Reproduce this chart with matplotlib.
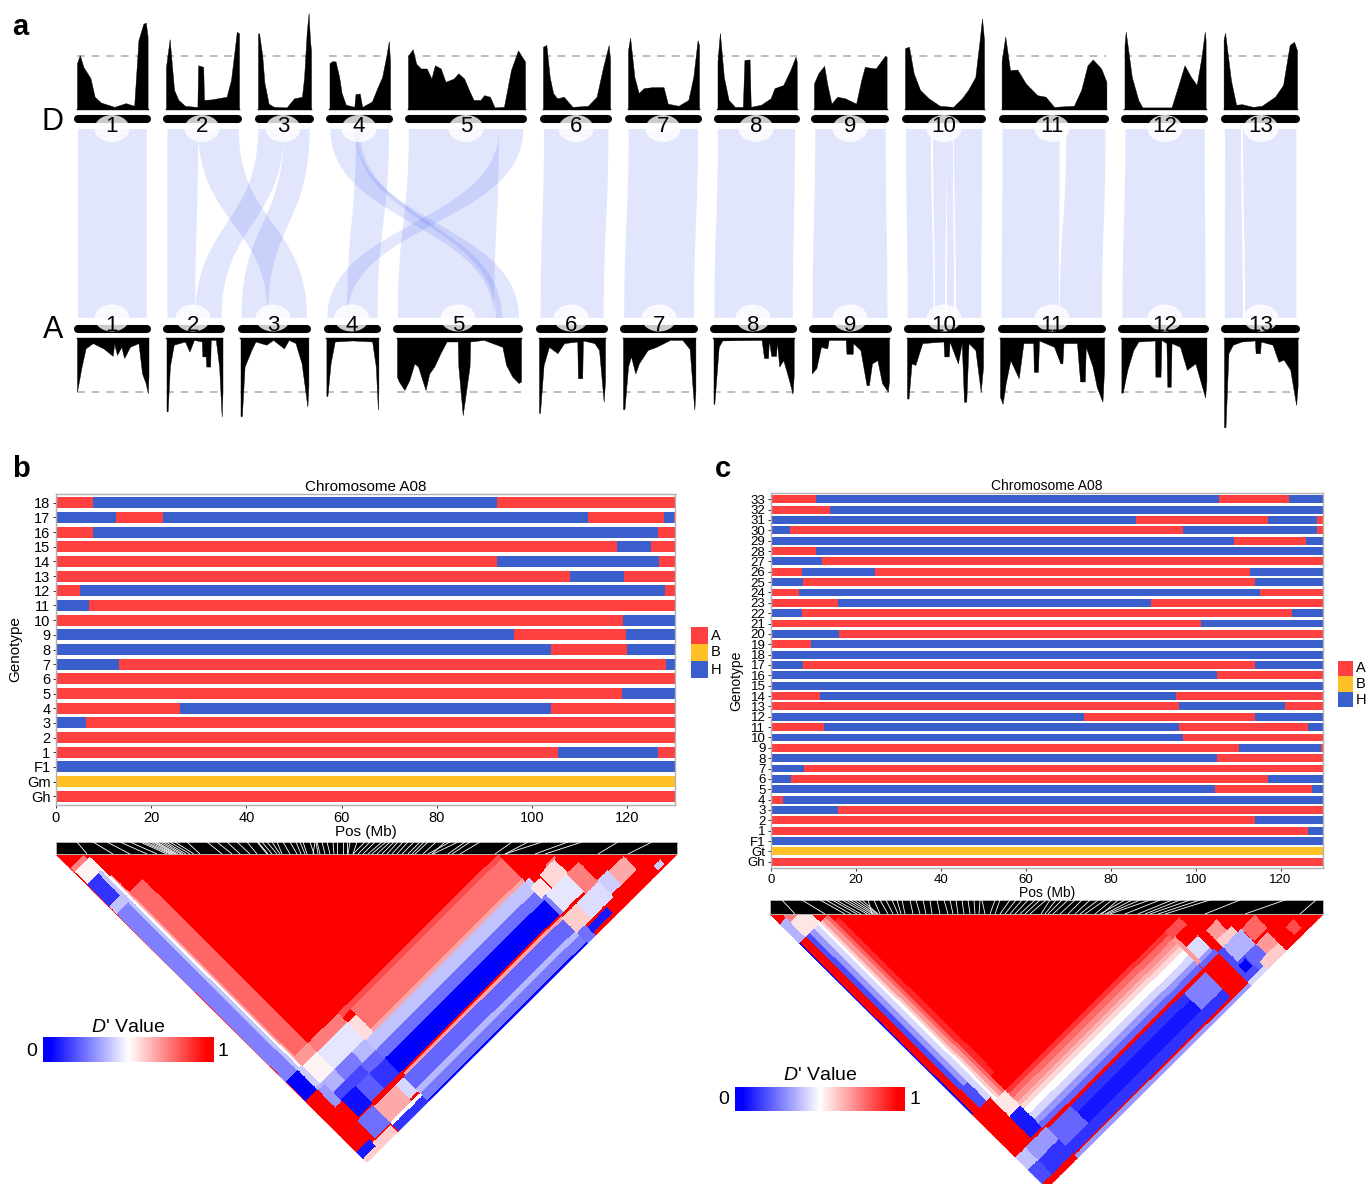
import numpy as np
import matplotlib
matplotlib.use('Agg')
import matplotlib.pyplot as plt
from matplotlib.collections import LineCollection
from matplotlib.colors import LinearSegmentedColormap
from matplotlib.patches import Ellipse, PathPatch, Polygon, Rectangle
from matplotlib.path import Path

plt.rcParams['font.family'] = ['Liberation Sans', 'DejaVu Sans']

W, H = 1370, 1184

# ---- panel a: chromosome spans (reference pixels)
D_BARS = [(74, 151), (163, 242), (255, 314), (326, 393), (405, 527), (540, 612), (625, 702),
          (714, 800), (811, 889), (902, 986), (999, 1109), (1121, 1208), (1221, 1300)]
A_BARS = [(74, 151), (163, 225.5), (238, 311), (324, 381.5), (393, 523), (536, 608), (620, 698),
          (710, 797), (809, 892), (904, 985), (998, 1106), (1118, 1209), (1221, 1300)]
D_SPANS = [(77, 147.6), (166, 239), (258, 311), (329.5, 390), (408, 525), (543, 610), (628, 699),
           (717.5, 796.7), (814, 886.6), (905, 984), (1001.6, 1106.4), (1124.5, 1205.6), (1223.6, 1297)]
A_SPANS = [(77, 148.5), (166.5, 222.5), (240.5, 308.4), (326.4, 378.4), (397, 521), (539, 605), (623, 695.4),
           (713.5, 793.7), (811.7, 889), (907, 983), (1000, 1104), (1121.4, 1206.4), (1224, 1297.6)]
D_LABEL_X = [112, 202, 283, 359, 466, 576, 663, 756, 850, 944, 1052, 1165, 1261]
A_LABEL_X = [112, 193, 273, 351.5, 458, 571, 659, 753, 850, 944, 1052, 1165, 1261]
CHR_NAMES = [str(i) for i in range(1, 14)]

# density profiles: position along chromosome (0-1), height (dashed line = 1)
D_POS = [
    [0, .04, .09, .19, .25, .34, .53, .69, .81, .87, .94, .975, 1],
    [0, .05, .11, .17, .26, .41, .43, .44, .51, .52, .62, .83, .89, .94, .97, 1],
    [0, .02, .08, .12, .2, .3, .54, .68, .83, .87, .92, .955, .98, 1],
    [0, .05, .1, .16, .2, .27, .41, .43, .5, .54, .7, .8, .87, .94, .98, 1],
    [0, .04, .07, .11, .16, .2, .23, .28, .32, .39, .43, .48, .52, .56, .62, .65, .7, .74, .82, .88, .94, 1],
    [0, .05, .1, .15, .21, .31, .44, .67, .8, .9, .98, 1],
    [0, .03, .09, .15, .22, .34, .5, .56, .71, .85, .92, .98, 1],
    [0, .03, .08, .14, .22, .32, .34, .405, .42, .55, .67, .72, .83, .92, .985, 1],
    [0, .06, .14, .18, .24, .32, .43, .58, .65, .7, .85, .98, 1],
    [0, .05, .11, .19, .3, .44, .61, .72, .8, .89, .945, .975, 1],
    [0, .035, .08, .15, .23, .34, .42, .5, .69, .76, .82, .87, .95, 1],
    [0, .015, .09, .17, .22, .58, .66, .74, .82, .89, .95, .99, 1],
    [0, .02, .1, .17, .25, .4, .52, .7, .81, .9, .96, 1],
]
D_VAL = [
    [.86, 1.01, .79, .58, .23, .12, .04, .11, .06, 1.29, 1.6, 1.62, 1.36],
    [.79, 1.31, .36, .17, .06, .04, .04, .82, .79, .17, .18, .23, .54, 1.1, 1.45, 1.42],
    [1.42, 1.42, 1.0, .5, .1, .04, .03, .2, .23, .6, 1.45, 1.8, 1.3, 1.1],
    [.86, .9, .89, .6, .3, .08, .04, .28, .29, .04, .14, .42, .6, 1.0, 1.27, .9],
    [1.0, 1.12, .85, .76, .76, .57, .82, .76, .51, .57, .67, .57, .36, .17, .17, .26, .23, .03, .04, .73, 1.1, .89],
    [1.17, 1.2, .6, .3, .2, .23, .04, .06, .23, .8, 1.2, .95],
    [1.1, 1.34, .6, .3, .39, .41, .41, .1, .06, .17, .6, 1.29, 1.2],
    [.9, 1.43, .6, .17, .04, .04, .92, .93, .04, .08, .2, .39, .45, .73, .98, .9],
    [.48, .67, .81, .48, .1, .23, .2, .1, .54, .79, .76, 1.0, .98],
    [1.14, 1.17, .67, .36, .2, .06, .04, .2, .36, .6, 1.29, 1.7, 1.3],
    [.9, 1.36, .73, .74, .48, .26, .23, .04, .06, .36, .82, .93, .76, .51],
    [1.2, 1.45, .6, .17, .03, .03, .42, .82, .6, .45, .98, 1.45, 1.3],
    [1.3, 1.43, .54, .08, .09, .04, .06, .23, .45, 1.2, 1.26, 1.1],
]
A_POS = [
    [0, .06, .12, .22, .37, .5, .52, .56, .62, .66, .74, .86, .91, .96, .99, 1],
    [0, .02, .06, .13, .33, .41, .49, .63, .64, .70, .71, .78, .79, .88, .94, .985, 1],
    [0, .02, .06, .16, .22, .38, .48, .64, .71, .81, .9, .985, 1],
    [0, .02, .08, .16, .5, .88, .95, .99, 1],
    [0, .015, .06, .1, .14, .17, .23, .26, .3, .35, .4, .49, .495, .53, .585, .59, .7, .85, .88, .93, .98, 1],
    [0, .015, .07, .15, .28, .38, .58, .59, .655, .665, .84, .91, .98, 1],
    [0, .02, .07, .11, .17, .22, .34, .46, .65, .82, .92, .985, 1],
    [0, .01, .065, .11, .6, .63, .68, .69, .72, .78, .79, .82, .87, .93, .985, 1],
    [0, .06, .12, .2, .22, .44, .45, .53, .535, .63, .71, .74, .78, .85, .91, .985, 1],
    [0, .02, .06, .11, .2, .48, .49, .55, .56, .67, .72, .75, .78, .81, .9, .97, 1],
    [0, .025, .055, .1, .18, .225, .32, .325, .365, .375, .52, .58, .6, .61, .74, .77, .815, .825, .89, .93, .985, 1],
    [0, .015, .07, .14, .2, .395, .4, .46, .47, .53, .54, .58, .59, .69, .77, .87, .985, 1],
    [0, .02, .06, .12, .24, .42, .43, .49, .5, .66, .74, .81, .9, .98, 1],
]
A_VAL = [
    [1.0, .56, .19, .09, .19, .33, .1, .31, .16, .37, .16, .09, .66, .84, 1.03, .7],
    [1.37, 1.37, .53, .12, .06, .25, .03, .06, .34, .34, .53, .53, .03, .03, .53, 1.47, 1.0],
    [1.46, 1.46, .53, .22, .06, .12, .03, .19, .03, .09, .47, 1.28, .9],
    [1.08, 1.08, .47, .06, .04, .06, .53, 1.34, 1.0],
    [.72, .81, .97, .78, .47, .53, .97, .66, .53, .28, .06, .06, .53, 1.44, .53, .06, .03, .16, .5, .72, .84, .81],
    [1.4, 1.4, .5, .16, .28, .09, .06, .75, .75, .04, .09, .22, 1.19, .8],
    [1.33, 1.33, .53, .34, .66, .47, .22, .16, .03, .03, .2, 1.34, 1.0],
    [1.23, 1.23, .16, .04, .03, .37, .37, .03, .33, .33, .06, .53, .41, .72, 1.04, .7],
    [.66, .56, .16, .19, .03, .03, .29, .29, .09, .22, .88, .88, .47, .41, .84, 1.0, .8],
    [1.13, 1.13, .47, .5, .09, .06, .34, .34, .06, .47, .09, 1.19, 1.19, .09, .22, 1.0, .55],
    [1.1, 1.23, .84, .41, .75, .09, .09, .63, .63, .04, .16, .47, .47, .09, .09, .81, .81, .16, .53, .91, 1.19, .6],
    [1.02, 1.02, .59, .22, .06, .04, .72, .72, .03, .09, .91, .91, .09, .16, .59, .47, 1.11, .8],
    [1.67, 1.67, .28, .12, .06, .04, .28, .28, .06, .12, .44, .4, .59, 1.25, .9],
]

# synteny ribbons: D start, D end, A start, A end
RIBBONS = [
    (78, 146.7, 78, 146.7), (167.4, 198.2, 167.4, 195.2), (198.2, 238.8, 267.8, 307),
    (284, 309.7, 241.4, 267.8), (258.1, 284, 195.2, 221.6), (356, 389, 347, 377.5),
    (330.4, 356, 494, 519), (355, 360, 496, 502), (408.8, 499, 397.8, 494.2), (499, 523.3, 327.3, 347),
    (544, 608.4, 540.5, 603.7), (628.6, 698, 624.2, 694), (717.9, 795, 714.4, 792.8),
    (815.2, 885.7, 812.6, 887.5), (906, 931, 907.7, 933.5), (933, 947, 935, 945),
    (947, 953, 947, 954), (954, 982.2, 956, 981.3), (1002.5, 1059.7, 1001.6, 1058.8),
    (1066.3, 1105.5, 1059.7, 1102), (1125.4, 1204.7, 1122.4, 1205.6), (1225, 1241, 1224.8, 1243),
    (1243, 1296.3, 1245, 1296.3),
]

# ---- panels b, c: genotype bins along A08 (Mb)
STATE_COLORS = {'A': '#FF4040', 'B': '#FFC125', 'H': '#3A5FCD'}
GENO_B_NAMES = ['Gh', 'Gm', 'F1', '1', '2', '3', '4', '5', '6', '7', '8', '9', '10', '11', '12', '13', '14', '15', '16', '17', '18']
GENO_B_STATES = ['A', 'B', 'H', 'AHA', 'A', 'HA', 'AHA', 'AH', 'A', 'HAH', 'HAH', 'HAH', 'AH', 'HA', 'AHA', 'AHA', 'AHA', 'AHA', 'AHA', 'HAHAHA', 'AHA']
GENO_B_BREAKS = [[], [], [], [105.5, 126.5], [], [6.4], [26, 104], [118.9], [], [13.3, 128.2], [104, 120], [96.2, 119.8],
                 [119], [6.9], [5.1, 127.8], [107.9, 119.2], [92.7, 126.7], [117.8, 125], [7.8, 126.5],
                 [12.5, 22.5, 111.7, 127.7, 129.7], [7.8, 92.7]]
GENO_C_NAMES = ['Gh', 'Gt', 'F1'] + [str(i) for i in range(1, 34)]
GENO_C_STATES = ['A', 'B', 'H', 'AH', 'AH', 'HA', 'AH', 'HAH', 'HAH', 'HA', 'HA', 'AHA', 'HA', 'AHAH', 'HAH', 'AHA', 'AHA', 'H', 'HA',
                 'HAH', 'H', 'AH', 'HA', 'AH', 'HAH', 'AHA', 'AHA', 'HAH', 'AHAH', 'HA', 'AH', 'HAH', 'HAHA', 'HAHA', 'AH', 'AHAH']
GENO_C_BREAKS = [[], [], [], [126.5], [114.1], [15.7], [2.8], [104.6, 127.4], [4.6, 117.1], [7.7], [105.1], [110.3, 129.5],
                 [97.1], [12.5, 96, 126.5], [73.6, 114.1], [96, 121], [11.5, 95.3], [], [105.1], [7.6, 114.1], [], [9.5], [16.1],
                 [101.2], [7.3, 122.8], [15.7, 89.5], [6.5, 115.2], [7.6, 114.1], [7.3, 24.4, 112.7], [11.9], [10.5],
                 [109, 126], [4.5, 97, 128.6], [85.9, 117, 128.6], [14], [10.5, 105.5, 122]]
X_TICKS = [0, 20, 40, 60, 80, 100, 120]

# ---- LD blocks: U from, U to, V from, V to, D'
LD_B_RANGE = (128, 1537)
LD_B_BLOCKS = [
    (128, 1537, 128, 1537, 1.0),
    (132, 190, 190, 210, .75), (132, 200, 210, 265, .52),
    (131, 183, 265, 368, .1), (131, 183, 368, 400, .38), (131, 183, 400, 1168, .25),
    (131, 185, 1168, 1256, .0), (128, 190, 1260, 1490, 1.0), (128, 190, 1490, 1520, .05), (128, 190, 1520, 1537, .6),
    (183, 195, 265, 1165, .38), (195, 203, 265, 1165, .5), (203, 210, 300, 1165, .68),
    (210, 270, 380, 1130, .8),
    (270, 407, 1130, 1172, .76), (270, 407, 1172, 1250, .45), (407, 445, 1175, 1255, .57),
    (205, 270, 1130, 1170, .7), (205, 270, 1170, 1250, .52), (185, 205, 1165, 1250, .4),
    (410, 1133, 1130, 1150, .85), (445, 1133, 1150, 1240, .78), (445, 1133, 1240, 1255, .68),
    (407, 1133, 1255, 1300, .38), (407, 1133, 1300, 1340, .22),
    (410, 1133, 1340, 1408, .0), (420, 1135, 1408, 1415, 1.0), (420, 1135, 1415, 1425, .68),
    (410, 1133, 1425, 1480, .2), (410, 1133, 1480, 1500, .36), (410, 1133, 1500, 1532, .24), (410, 1133, 1532, 1537, .0),
    (185, 270, 1250, 1300, .35), (270, 350, 1250, 1300, .24), (350, 407, 1250, 1300, .36),
    (210, 340, 1300, 1340, .14), (340, 407, 1300, 1340, .2), (185, 215, 1260, 1340, .3),
    (280, 340, 1340, 1408, .18), (340, 410, 1340, 1408, .1), (215, 280, 1335, 1415, .03),
    (275, 372, 1415, 1425, 1.0), (275, 372, 1425, 1498, .67), (372, 410, 1425, 1490, .42),
    (275, 410, 1498, 1510, .5), (275, 410, 1510, 1537, .1),
    (205, 275, 1420, 1500, .22), (190, 270, 1505, 1537, .6),
    (1133, 1150, 1255, 1330, .4), (1150, 1243, 1330, 1410, .45), (1130, 1175, 1280, 1330, .55), (1180, 1250, 1270, 1330, .58),
    (1215, 1258, 1262, 1270, .75), (1133, 1150, 1330, 1410, .25), (1243, 1300, 1330, 1420, .75),
    (1133, 1198, 1420, 1490, .6), (1198, 1300, 1420, 1490, .43), (1300, 1345, 1415, 1480, .4), (1345, 1415, 1420, 1480, .67),
    (1170, 1260, 1498, 1525, .05), (1133, 1170, 1490, 1537, .22), (1170, 1430, 1525, 1537, 1.0),
    (1460, 1490, 1510, 1530, .4),
]
LD_C_RANGE = (165, 1457)
LD_C_BLOCKS = [
    (165, 1457, 165, 1457, 1.0),
    (165, 195, 210, 300, .35), (195, 265, 190, 230, .75), (195, 265, 230, 300, .55),
    (165, 172, 300, 1110, .0), (172, 197, 300, 1110, 1.0),
    (197, 215, 300, 1020, .15), (215, 235, 300, 1020, .3), (235, 255, 300, 1128, .42), (255, 265, 300, 1128, .5),
    (265, 275, 300, 1128, .6), (275, 290, 300, 1128, .7), (290, 302, 300, 1128, .8), (302, 321, 330, 1060, .92),
    (200, 235, 1020, 1110, .15), (165, 250, 1110, 1310, 1.0), (250, 302, 1128, 1200, .55), (250, 302, 1200, 1300, .05),
    (302, 1050, 1128, 1145, .9), (302, 1050, 1145, 1165, .8), (302, 1050, 1165, 1185, .72), (302, 1050, 1185, 1200, .65), (302, 1050, 1200, 1215, .58),
    (302, 1050, 1215, 1240, .5), (302, 1050, 1240, 1265, .42), (302, 1050, 1265, 1285, .3), (302, 1050, 1285, 1305, .2),
    (302, 1125, 1305, 1318, 1.0), (312, 1050, 1318, 1350, .1), (312, 1050, 1350, 1400, .04), (312, 1050, 1400, 1437, .1),
    (312, 1130, 1437, 1445, 1.0), (312, 1130, 1445, 1457, .3),
    (312, 420, 1318, 1400, .2), (950, 1050, 1318, 1400, .25),
    (1052, 1125, 1305, 1435, 1.0), (1052, 1125, 1285, 1305, .2),
    (1050, 1118, 1128, 1165, .85), (1050, 1064, 1165, 1285, .7), (1064, 1118, 1214, 1270, .43), (1064, 1118, 1270, 1285, .3),
    (1125, 1180, 1300, 1440, .15), (1180, 1250, 1370, 1440, .2), (1150, 1235, 1300, 1370, .35), (1142, 1175, 1380, 1415, .0),
    (1149, 1200, 1221, 1270, .7), (1150, 1220, 1270, 1300, .6), (1234, 1290, 1370, 1420, .7), (1200, 1290, 1420, 1457, .6), (1125, 1200, 1440, 1457, .42),
    (1236, 1300, 1300, 1360, .8), (1344, 1380, 1400, 1440, .85),
    (165, 215, 1310, 1370, .38), (165, 215, 1370, 1436, .15), (215, 312, 1310, 1370, .3), (215, 312, 1370, 1436, .1),
    (165, 312, 1436, 1457, 1.0),
]

# white gaps in the SNP strip above each heatmap: x at top, x at bottom
STRIP_B_TOP = [77, 93, 107, 120, 130, 140, 143, 146, 150, 153, 155, 157, 160, 163, 166, 170, 175, 187, 207, 217, 227, 237, 247, 257, 258, 262, 267, 272, 277,
               283, 290, 296, 300, 303, 310, 315, 316, 317, 322, 327, 333, 337, 343, 347, 350, 357, 365, 370, 375, 382, 386, 390, 394, 398, 403, 408, 414, 420,
               424, 428, 436, 445, 450, 458, 465, 470, 480, 512, 528, 542, 568, 582, 618, 652]
STRIP_B_BOTTOM = [87, 113, 130, 147, 157, 167, 170, 172, 173, 175, 176, 178, 181, 183, 186, 190, 194, 200, 222, 232, 240, 250, 257, 267, 268, 272, 277, 280, 282,
                  290, 297, 301, 305, 307, 314, 313, 318, 320, 325, 330, 334, 337, 343, 347, 348, 353, 353, 358, 363, 368, 372, 377, 382, 387, 392, 397, 402, 408,
                  412, 415, 423, 432, 428, 433, 448, 452, 460, 495, 505, 505, 535, 545, 598, 628]
STRIP_C_TOP = [782, 802, 820, 826, 832, 836, 842, 846, 850, 854, 858, 862, 868, 874, 880, 886, 892, 897, 902, 910, 916, 923, 930, 937, 944, 950, 956, 962, 968, 974, 980, 982,
               995, 1000, 1010, 1016, 1022, 1028, 1035, 1040, 1046, 1050, 1056, 1062, 1068, 1075, 1082, 1090, 1098, 1105, 1112, 1118, 1125, 1132, 1140, 1150, 1160, 1172,
               1180, 1190, 1200, 1210, 1240, 1285, 1316]
STRIP_C_BOTTOM = [795, 825, 845, 851, 857, 861, 867, 870, 873, 875, 877, 878, 872, 880, 888, 893, 898, 901, 905, 913, 920, 926, 932, 940, 948, 953, 958, 964, 970, 975, 979, 985,
                  990, 995, 1000, 1005, 1010, 1015, 1020, 1025, 1030, 1041, 1045, 1048, 1053, 1060, 1068, 1075, 1080, 1085, 1095, 1102, 1100, 1105, 1107, 1110, 1125, 1138,
                  1145, 1150, 1158, 1165, 1205, 1245, 1300]

LD_CMAP = LinearSegmentedColormap.from_list('ld', ['#0000FF', '#FFFFFF', '#FF0000'])


def axes_from_pixels(fig, x0, y0, x1, y1):
    return fig.add_axes([x0 / W, 1 - y1 / H, (x1 - x0) / W, (y1 - y0) / H])


def draw_genotypes(ax, names, states, breaks, tick_size, height, title_size):
    for row, (st, br) in enumerate(zip(states, breaks)):
        edges = [0] + list(br) + [130]
        for k, s in enumerate(st):
            ax.barh(row, edges[k + 1] - edges[k], left=edges[k], height=height, color=STATE_COLORS[s], linewidth=0)
    ax.set_xlim(0, 130)
    ax.set_ylim(-0.6, len(names) - 0.4)
    ax.set_yticks(range(len(names)))
    ax.set_yticklabels(names)
    ax.set_xticks(X_TICKS)
    ax.tick_params(labelsize=tick_size, length=2.5, width=0.7, pad=1.5, color='#333333')
    for s in ax.spines.values():
        s.set_color('#b0b0b0')
        s.set_linewidth(1)
    ax.set_title('Chromosome A08', fontsize=title_size, pad=1.5)
    ax.set_xlabel('Pos (Mb)', fontsize=title_size, labelpad=0)
    ax.set_ylabel('Genotype', fontsize=title_size, labelpad=3)


def draw_ld(ov, blocks, rng, left, right, top, k):
    edges = np.unique([b[i] for b in blocks for i in range(4)])
    mid = (edges[:-1] + edges[1:]) / 2
    z = np.full((len(mid), len(mid)), np.nan)
    uu, vv = np.meshgrid(mid, mid)
    for ulo, uhi, vlo, vhi, val in blocks:
        z[(uu >= ulo) & (uu < uhi) & (vv >= vlo) & (vv < vhi) & (vv >= uu)] = val
    scale = (right - left) / (rng[1] - rng[0])
    ue, ve = np.meshgrid((edges - rng[0]) * scale, (edges - rng[0]) * scale)
    xs = left + (ue + ve) / 2
    ys = top + (ve - ue) * k
    mesh = ov.pcolormesh(xs, ys, np.ma.masked_invalid(z), cmap=LD_CMAP, vmin=0, vmax=1, antialiased=False, linewidth=0, zorder=2)
    tri = Polygon([(left, top), (right, top), ((left + right) / 2, top + (right - left) * k)], transform=ov.transData, fill=False, lw=0)
    ov.add_patch(tri)
    mesh.set_clip_path(tri)


def draw_strip(ov, tops, bottoms, x0, x1, y0, y1):
    ov.add_patch(Rectangle((x0, y0), x1 - x0, y1 - y0, facecolor='black', edgecolor='#bbbbbb', lw=0.6, zorder=3))
    segs = [[(a, y0), (b, y1)] for a, b in zip(tops, bottoms)]
    ov.add_collection(LineCollection(segs, colors='white', linewidths=0.6, zorder=4))


def draw_ld_key(ov, x0, x1, y0, y1, title_y):
    ramp = np.linspace(0, 1, 12).reshape(1, -1)
    ov.imshow(ramp, cmap=LD_CMAP, extent=(x0, x1, y1, y0), aspect='auto', zorder=3, interpolation='bilinear')
    ov.text(x0 - 11, (y0 + y1) / 2 + 1, '0', fontsize=14, ha='center', va='center', zorder=5)
    ov.text(x1 + 10, (y0 + y1) / 2 + 1, '1', fontsize=14, ha='center', va='center', zorder=5)
    ov.text((x0 + x1) / 2, title_y, r"$\mathit{D}$' Value", fontsize=14, ha='center', va='center', zorder=5,
            math_fontfamily='custom')


def draw_state_key(ov, x0, x1, ys):
    for name, a, b in zip('ABH', ys[:-1], ys[1:]):
        ov.add_patch(Rectangle((x0, a), x1 - x0, b - a, facecolor=STATE_COLORS[name], lw=0, zorder=3))
        ov.text(x1 + 3, (a + b) / 2, name, fontsize=10.5, va='center', ha='left', zorder=5)


plt.rcParams['mathtext.fontset'] = 'custom'
plt.rcParams['mathtext.it'] = 'Liberation Sans:italic'
plt.rcParams['mathtext.rm'] = 'Liberation Sans'

fig = plt.figure(figsize=(W / 100, H / 100), dpi=100)
ov = fig.add_axes([0, 0, 1, 1], zorder=0)
ov.set_xlim(0, W)
ov.set_ylim(H, 0)
ov.axis('off')

# panel a
D_BASE, D_DASH = 109, 55.7
A_BASE, A_DASH = 338.3, 391.7
UNIT = 53.3
for (x0, x1), pos, val in zip(D_SPANS, D_POS, D_VAL):
    xs = x0 + np.array(pos) * (x1 - x0)
    ov.plot([x0, x1], [D_DASH, D_DASH], color='#bdbdbd', lw=1.4, dashes=(4, 3.5), zorder=1)
    ov.fill_between(xs, D_BASE, D_BASE - np.array(val) * UNIT, color='black', lw=0.3, zorder=2)
    ov.plot([x0, x1], [D_BASE, D_BASE], color='black', lw=1, zorder=2)
for (x0, x1), pos, val in zip(A_SPANS, A_POS, A_VAL):
    xs = x0 + np.array(pos) * (x1 - x0)
    ov.plot([x0, x1], [A_DASH, A_DASH], color='#bdbdbd', lw=1.4, dashes=(4, 3.5), zorder=1)
    ov.fill_between(xs, A_BASE, A_BASE + np.array(val) * UNIT, color='black', lw=0.3, zorder=2)
    ov.plot([x0, x1], [A_BASE, A_BASE], color='black', lw=1, zorder=2)

RIB_TOP, RIB_BOT = 129, 318
RIB_MID = (RIB_TOP + RIB_BOT) / 2
for a, b, c, d in RIBBONS:
    verts = [(a, RIB_TOP), (b, RIB_TOP), (b, RIB_MID), (d, RIB_MID), (d, RIB_BOT), (c, RIB_BOT), (c, RIB_MID), (a, RIB_MID),
             (a, RIB_TOP), (a, RIB_TOP)]
    codes = [Path.MOVETO, Path.LINETO, Path.CURVE4, Path.CURVE4, Path.CURVE4, Path.LINETO, Path.CURVE4, Path.CURVE4, Path.CURVE4,
             Path.CLOSEPOLY]
    ov.add_patch(PathPatch(Path(verts, codes), facecolor=(0.25, 0.35, 0.95, 0.15), edgecolor='none', zorder=1))

for bars, y in ((D_BARS, 119), (A_BARS, 328.5)):
    for x0, x1 in bars:
        ov.plot([x0 + 4, x1 - 4], [y, y], color='black', lw=5.8, solid_capstyle='round', zorder=2)
for xs, y, halo_y in ((D_LABEL_X, 126.5, 128.5), (A_LABEL_X, 325.5, 318)):
    for x, name in zip(xs, CHR_NAMES):
        ov.add_patch(Ellipse((x, halo_y), 35, 27, facecolor='white', alpha=0.8, lw=0, zorder=3))
        ov.text(x, y, name, fontsize=16, ha='center', va='center', zorder=5)
ov.text(53, 121.5, 'D', fontsize=22, ha='center', va='center')
ov.text(53, 330.5, 'A', fontsize=22, ha='center', va='center')

# panel letters
ov.text(20, 27, 'a', fontsize=21, fontweight='bold', ha='center', va='center')
ov.text(21, 469, 'b', fontsize=21, fontweight='bold', ha='center', va='center')
ov.text(723, 469, 'c', fontsize=21, fontweight='bold', ha='center', va='center')

# panels b, c
ax_b = axes_from_pixels(fig, 56, 494, 675, 805)
draw_genotypes(ax_b, GENO_B_NAMES, GENO_B_STATES, GENO_B_BREAKS, 10.5, 0.75, 11)
ax_c = axes_from_pixels(fig, 771, 493, 1323, 868)
draw_genotypes(ax_c, GENO_C_NAMES, GENO_C_STATES, GENO_C_BREAKS, 9.5, 0.76, 10)
draw_state_key(ov, 691, 708, [627, 644, 661, 678])
draw_state_key(ov, 1338, 1353, [661, 676, 692, 707])

draw_strip(ov, STRIP_B_TOP, STRIP_B_BOTTOM, 56.4, 677.5, 842, 854)
draw_ld(ov, LD_B_BLOCKS, LD_B_RANGE, 56.5, 677, 855, 0.4965)
draw_ld_key(ov, 42.7, 212.8, 1038, 1062.3, 1027)

draw_strip(ov, STRIP_C_TOP, STRIP_C_BOTTOM, 770.5, 1322.6, 900, 914)
draw_ld(ov, LD_C_BLOCKS, LD_C_RANGE, 770.5, 1322.6, 915, 0.4965)
draw_ld_key(ov, 735, 905, 1086.7, 1110.7, 1075)

ov.set_xlim(0, W)
ov.set_ylim(H, 0)
fig.savefig('out.png', dpi=100)
